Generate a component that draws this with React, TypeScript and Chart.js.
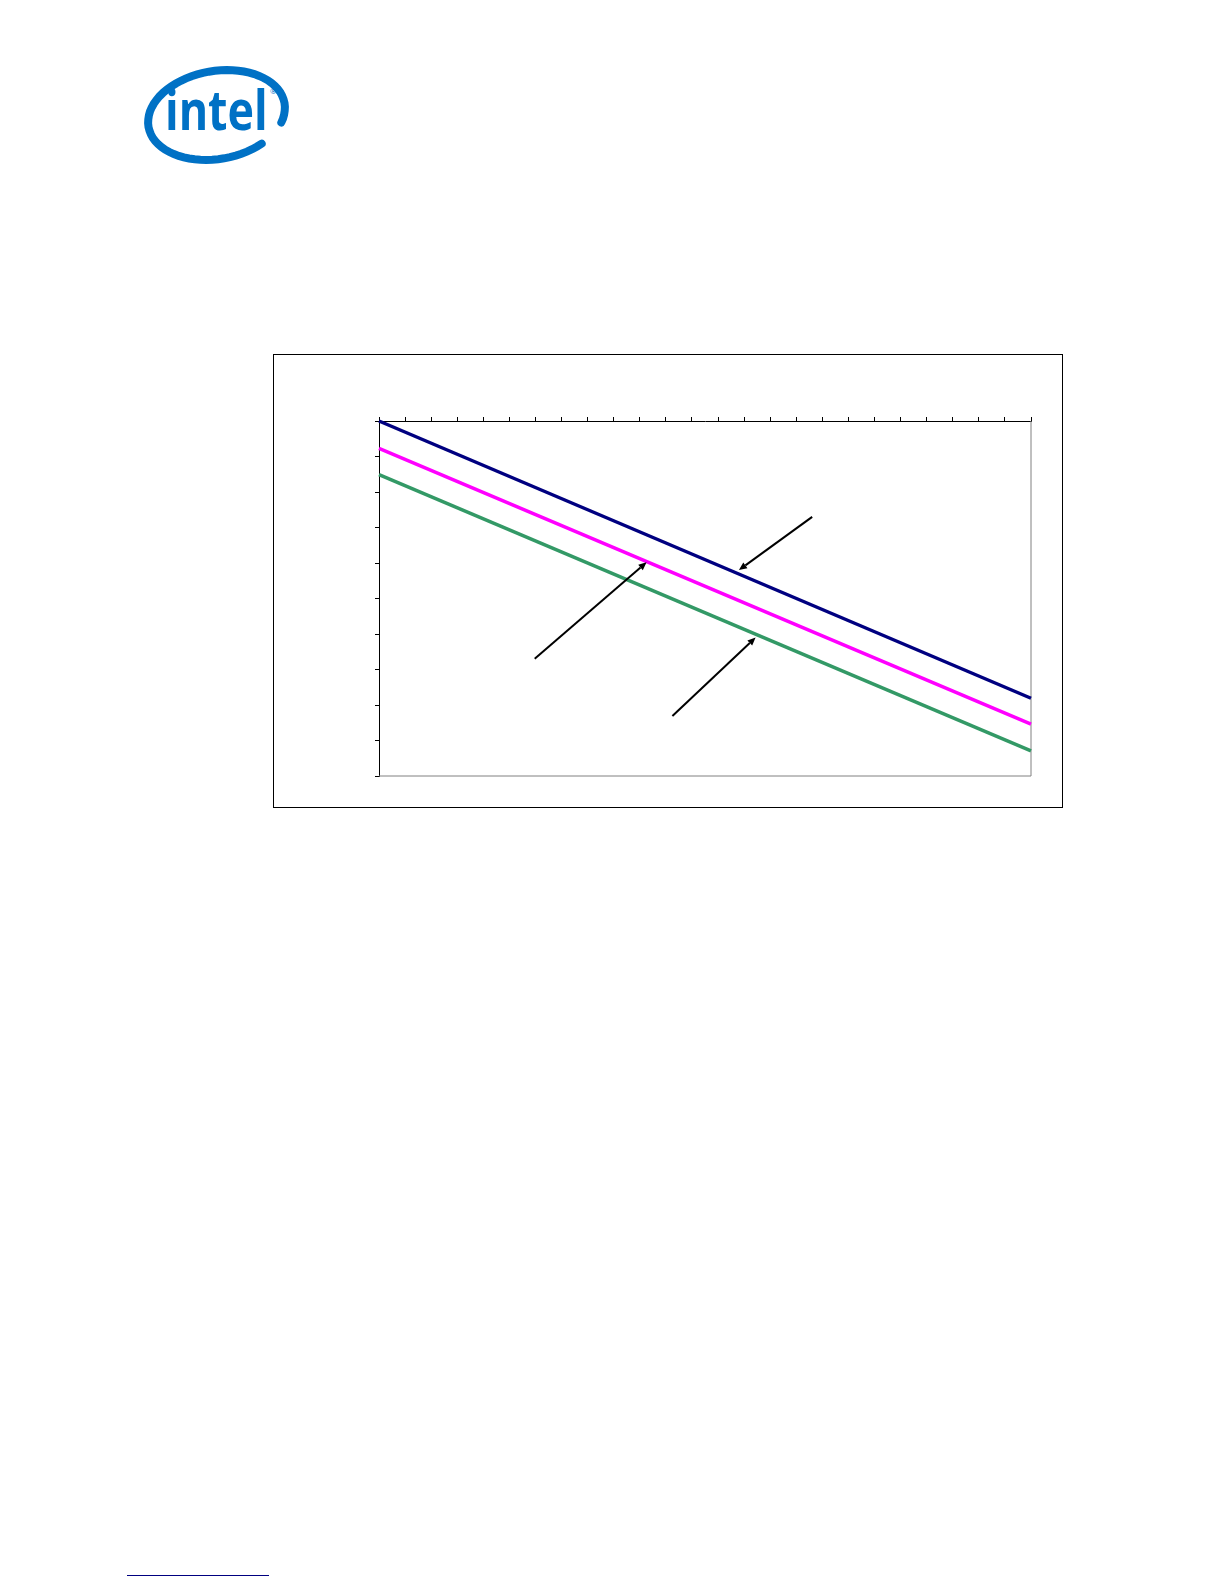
import { useEffect, useRef } from 'react'
import Chart from 'chart.js/auto'

// x span and the end values of the three straight lines
const xRange = [0, 25]
const yRange = [0, 10]
const navyLine = [10, 2.19]
const magentaLine = [9.23, 1.46]
const greenLine = [8.49, 0.71]

// callout arrows in data units: [fromX, fromY, toX, toY]
const arrowTop = [16.61, 7.3, 13.8, 5.8]
const arrowMid = [5.97, 3.3, 10.26, 6.02]
const arrowLow = [11.25, 1.69, 14.44, 3.9]
const arrows = [arrowTop, arrowMid, arrowLow]

const frame = {
  id: 'frame',
  beforeDatasetsDraw(chart: any) {
    const { ctx, chartArea: a } = chart
    ctx.save()
    ctx.strokeStyle = '#808080'
    ctx.lineWidth = 1
    ctx.beginPath()
    ctx.moveTo(a.right, a.top)
    ctx.lineTo(a.right, a.bottom)
    ctx.lineTo(a.left, a.bottom)
    ctx.stroke()
    ctx.restore()
  }
}

const arrowPlugin = {
  id: 'arrows',
  afterDatasetsDraw(chart: any) {
    const { ctx } = chart
    const { x, y } = chart.scales
    ctx.save()
    ctx.strokeStyle = '#000'
    ctx.fillStyle = '#000'
    ctx.lineWidth = 2
    for (const [fx, fy, tx, ty] of arrows) {
      const x1 = x.getPixelForValue(fx), y1 = y.getPixelForValue(fy)
      const x2 = x.getPixelForValue(tx), y2 = y.getPixelForValue(ty)
      const a = Math.atan2(y2 - y1, x2 - x1)
      const hl = 8, hw = 3.5
      const bx = x2 - hl * Math.cos(a), by = y2 - hl * Math.sin(a)
      ctx.beginPath()
      ctx.moveTo(x1, y1)
      ctx.lineTo(bx, by)
      ctx.stroke()
      ctx.beginPath()
      ctx.moveTo(x2, y2)
      ctx.lineTo(bx - hw * Math.sin(a), by + hw * Math.cos(a))
      ctx.lineTo(bx + hw * Math.sin(a), by - hw * Math.cos(a))
      ctx.closePath()
      ctx.fill()
    }
    ctx.restore()
  }
}

function LineChart() {
  const ref = useRef<HTMLCanvasElement>(null)
  useEffect(() => {
    if (!ref.current) return
    const pts = (vals: number[]) => xRange.map((x, i) => ({ x, y: vals[i] }))
    const chart = new Chart(ref.current, {
      type: 'line',
      data: {
        datasets: [
          { data: pts(navyLine), borderColor: '#000080', borderWidth: 3.5, pointRadius: 0, clip: false },
          { data: pts(magentaLine), borderColor: '#ff00ff', borderWidth: 3.5, pointRadius: 0, clip: false },
          { data: pts(greenLine), borderColor: '#339966', borderWidth: 3.5, pointRadius: 0, clip: false }
        ]
      },
      options: {
        animation: false,
        responsive: true,
        maintainAspectRatio: false,
        layout: { padding: { left: 101, top: 62, right: 31, bottom: 31 } },
        plugins: { legend: { display: false }, tooltip: { enabled: false } },
        scales: {
          x: {
            type: 'linear', position: 'top', min: xRange[0], max: xRange[1],
            ticks: { display: false, stepSize: 1 },
            grid: { drawOnChartArea: false, tickLength: 4, color: '#000' },
            border: { color: '#000', width: 1 },
            afterFit: (s: any) => { s.height = 4 }
          },
          y: {
            type: 'linear', min: yRange[0], max: yRange[1],
            ticks: { display: false, stepSize: 1 },
            grid: { drawOnChartArea: false, tickLength: 4, color: '#000' },
            border: { color: '#000', width: 1 },
            afterFit: (s: any) => { s.width = 4 }
          }
        }
      },
      plugins: [frame, arrowPlugin]
    })
    return () => chart.destroy()
  }, [])
  return <canvas ref={ref} />
}

function Logo() {
  const cx = 216.5, cy = 115, rx = 69, ry = 44, rot = -10 * Math.PI / 180
  const p: string[] = []
  for (let d = 25; d >= -305; d -= 5) {
    const t = d * Math.PI / 180
    const lx = rx * Math.cos(t), ly = ry * Math.sin(t)
    const px = cx + lx * Math.cos(rot) - ly * Math.sin(rot)
    const py = cy + lx * Math.sin(rot) + ly * Math.cos(rot)
    p.push(`${p.length ? 'L' : 'M'}${px.toFixed(1)} ${py.toFixed(1)}`)
  }
  return (
    <svg width={320} height={180} style={{ position: 'absolute', left: 0, top: 0 }}>
      <path d={p.join(' ')} fill="none" stroke="#0071c5" strokeWidth={8} strokeLinecap="round" />
      <text transform="translate(165 130) scale(0.8 1)" fill="#0071c5" fontFamily="'Open Sans', sans-serif"
        fontWeight="bold" fontSize={56}>intel</text>
      <text x={270} y={94} fill="#0071c5" fontFamily="'Open Sans', sans-serif" fontSize={8}>®</text>
    </svg>
  )
}

export default function App() {
  return (
    <div style={{ position: 'absolute', left: 0, top: 0, width: 1224, height: 1584, background: '#fff', fontFamily: "'Liberation Sans', sans-serif" }}>
      <Logo />
      <div style={{ position: 'absolute', left: 273, top: 354, width: 788, height: 452, border: '1px solid #000' }}>
        <div style={{ position: 'relative', width: 788, height: 452 }}>
          <LineChart />
        </div>
      </div>
      <div style={{ position: 'absolute', left: 127, top: 1575, width: 142, height: 0, borderTop: '1px solid #000080' }} />
    </div>
  )
}
